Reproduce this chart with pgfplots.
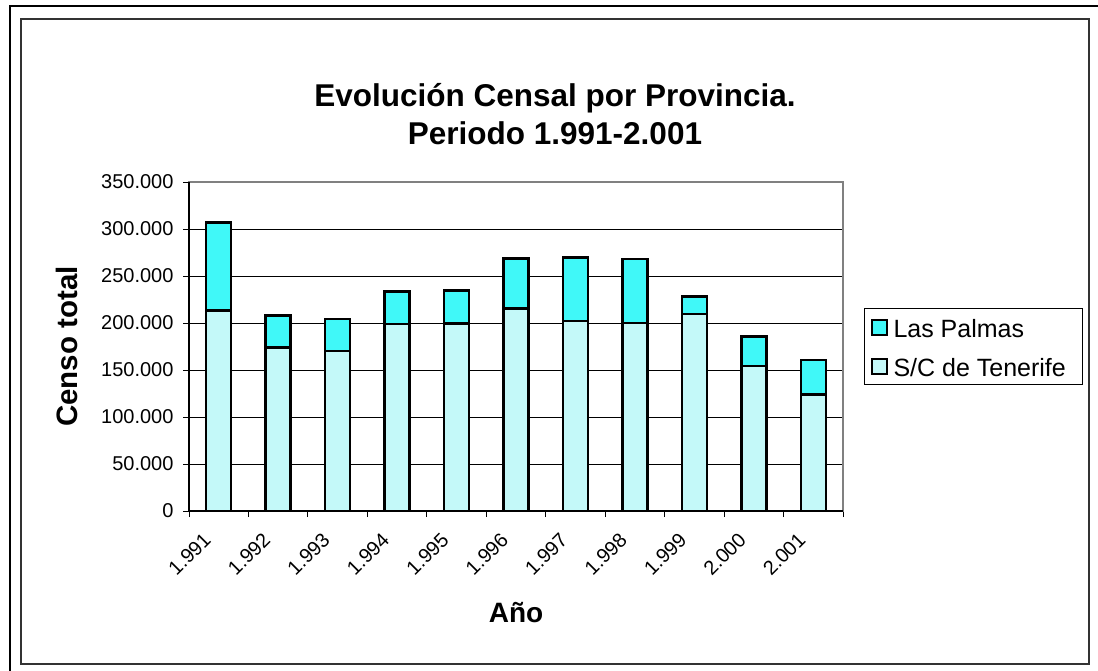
\documentclass[border=0pt]{standalone}
\usepackage{fontspec}
\setmainfont{Liberation Sans}
\usepackage{pgfplots}
\pgfplotsset{compat=1.18}

\definecolor{lpcyan}{RGB}{64,248,248}
\definecolor{tfcyan}{RGB}{196,249,249}

\begin{document}
\begin{tikzpicture}
\useasboundingbox (0bp,0bp) rectangle (1098bp,-671bp);
\draw[black, line width=2.5bp] (10bp,-671bp) -- (10bp,-6bp) -- (1098bp,-6bp);
\draw[black!80, line width=1.5bp] (21bp,-19bp) rectangle (1089bp,-664bp);
\node[align=center, font=\bfseries\fontsize{31.5bp}{38bp}\selectfont] at (555bp,-114bp)
  {Evolución Censal por Provincia.\\Periodo 1.991-2.001};

\begin{axis}[
  at={(189bp,-511bp)}, anchor=south west,
  width=654bp, height=329bp, scale only axis,
  ybar stacked, bar width=25bp,
  xmin=-0.5, xmax=10.5, ymin=0, ymax=350000,
  xtick={-0.5,0.5,...,10.5}, x tick label as interval,
  xticklabels={1.991,1.992,1.993,1.994,1.995,1.996,1.997,1.998,1.999,2.000,2.001},
  ytick={0,50000,...,350000}, scaled y ticks=false,
  yticklabel style={xshift=-6bp, /pgf/number format/.cd, fixed, 1000 sep={.}, assume math mode=true},
  ymajorgrids, grid style={black, line width=1bp},
  tick align=outside, tick pos=left, major tick length=6bp,
  tick style={black, line width=1bp},
  axis line style={draw=gray, line width=1.5bp},
  ticklabel style={font=\fontsize{20bp}{24bp}\selectfont},
  xticklabel style={xshift=-9bp, yshift=-17bp, rotate=45, anchor=east},
  xlabel={Año}, ylabel={Censo total},
  label style={font=\bfseries\fontsize{28bp}{34bp}\selectfont},
  ylabel style={font=\bfseries\fontsize{29.5bp}{34bp}\selectfont},
  xlabel style={at={(axis description cs:0.5,-0.31)}, anchor=center},
  ylabel style={at={(axis description cs:-0.1865,0.5)}, anchor=center},
  reverse legend, legend cell align=left,
  legend style={at={(axis description cs:1.0321,0.617)}, anchor=north west,
    draw=black, line width=1bp, font=\fontsize{25bp}{30bp}\selectfont,
    inner xsep=6bp, inner ysep=2bp, row sep=6bp,
    nodes={inner sep=1bp, text height=26bp, text depth=5bp},
    /tikz/column 1/.style={column sep=5bp}},
  legend image code/.code={\draw[#1, line width=2bp] (0bp,-7.5bp) rectangle (15bp,7.5bp);},
  after end axis/.code={\draw[black, line width=1.5bp] (rel axis cs:0,1) -- (rel axis cs:0,0) -- (rel axis cs:1,0);},
]
% S/C de Tenerife
\addplot[fill=tfcyan, draw=black, line width=2.5bp] coordinates {
(0,213100)(1,173700)(2,170200)(3,198900)(4,199600)(5,215200)
(6,202100)(7,200000)(8,209400)(9,154000)(10,124200)};
% Las Palmas
\addplot[fill=lpcyan, draw=black, line width=2.5bp] coordinates {
(0,93600)(1,34100)(2,34100)(3,34400)(4,34800)(5,53600)
(6,67800)(7,68100)(8,18600)(9,31400)(10,36400)};
\legend{S/C de Tenerife\hspace*{10bp},Las Palmas}
\end{axis}
\end{tikzpicture}
\end{document}
